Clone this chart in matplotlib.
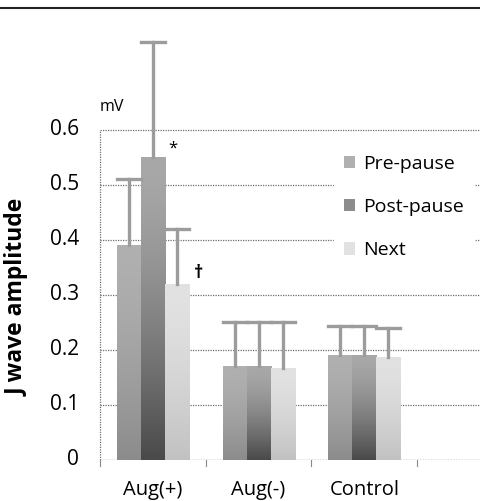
import matplotlib
matplotlib.use('Agg')
import matplotlib.pyplot as plt
from matplotlib.patches import Patch
from matplotlib.lines import Line2D
import numpy as np

# Group names and series (mean and upper error bar value, in mV)
groups = ['Aug(+)', 'Aug(-)', 'Control']
series = ['Pre-pause', 'Post-pause', 'Next']
means = {
    'Pre-pause': [0.39, 0.17, 0.19],
    'Post-pause': [0.55, 0.17, 0.19],
    'Next': [0.32, 0.166, 0.186],
}
upper = {
    'Pre-pause': [0.51, 0.25, 0.243],
    'Post-pause': [0.76, 0.25, 0.243],
    'Next': [0.42, 0.25, 0.24],
}
y_ticks = [0, 0.1, 0.2, 0.3, 0.4, 0.5, 0.6]

# top / bottom grey of each series' gradient
shades = {
    'Pre-pause': ('#b0b0b0', '#8c8c8c'),
    'Post-pause': ('#a8a8a8', '#4a4a4a'),
    'Next': ('#e2e2e2', '#c2c2c2'),
}

plt.rcParams['font.family'] = ['Open Sans', 'DejaVu Sans']

fig = plt.figure(figsize=(4.81, 5.01), dpi=100)
ax = fig.add_axes([0.2079, 0.0828, 0.8794, 0.878])
ax.set_xlim(-0.5, 3.5)
ax.set_ylim(0, 0.8)

grid_kw = dict(color='#6e6e6e', lw=0.9, ls=(0, (1, 1)), zorder=1)
for t in y_ticks[1:]:
    ax.axhline(t, **grid_kw)
ax.axhline(0, color='#555555', lw=1.0, ls=(0, (1, 1)), zorder=1)
ax.plot([-0.5, -0.5], [0, 0.6], clip_on=False, **grid_kw)
for b in [-0.5, 0.5, 1.5, 2.5]:
    ax.plot([b, b], [0, -0.012], color='#888888', lw=0.8, clip_on=False)

width = 0.227
offsets = [-width, 0, width]
x = np.arange(len(groups))

for s, off in zip(series, offsets):
    top_c, bot_c = shades[s]
    c1 = np.array(matplotlib.colors.to_rgb(top_c))
    c2 = np.array(matplotlib.colors.to_rgb(bot_c))
    ramp = np.linspace(0, 1, 64) ** 1.5
    grad = (c1[None, :] * (1 - ramp[:, None]) + c2[None, :] * ramp[:, None])[:, None, :]
    for xi, m, u in zip(x, means[s], upper[s]):
        left = xi + off - width / 2
        ax.imshow(grad, extent=(left, left + width, 0, m), aspect='auto',
                  origin='upper', zorder=2, interpolation='bilinear')
        # one-sided error bar
        ax.plot([xi + off, xi + off], [m, u], color='#9c9c9c', lw=2.4, zorder=3)
        ax.plot([left, left + width], [u, u], color='#9c9c9c', lw=2.4, zorder=3)

ax.set_xlim(-0.5, 3.5)
ax.set_ylim(0, 0.8)

for sp in ax.spines.values():
    sp.set_visible(False)
ax.set_xticks([])
ax.set_yticks([])

for t in y_ticks:
    ax.text(-0.7, t, f'{t:g}' if t else '0', ha='right', va='center', fontsize=15)
for xi, g in zip(x, groups):
    ax.text(xi, -0.056, g, ha='center', va='center', fontsize=14.5)

ax.text(-0.39, 0.627, 'mV', ha='center', va='bottom', fontsize=11.5)
ax.text(0.19, 0.565, '*', ha='center', va='center', fontsize=12)
ax.text(0.43, 0.34, '†', ha='center', va='center', fontsize=13, fontweight='bold')

fig.text(0.037, 0.407, 'J wave amplitude', rotation=90, ha='center', va='center',
         fontsize=16.5, fontweight='bold')

handles = [Patch(facecolor=shades[s][0] if s != 'Post-pause' else '#8c8c8c',
                 edgecolor='none') for s in series]
leg = ax.legend(handles, series, loc='upper left', bbox_to_anchor=(0.53, 0.737),
                frameon=True, framealpha=1, edgecolor='white', fontsize=14,
                handlelength=0.6, handleheight=0.6, handletextpad=0.4,
                labelspacing=1.3, borderpad=0.5)
leg.set_zorder(5)

# rule across the top of the figure
fig.add_artist(Line2D([0, 1], [0.985, 0.985], color='#222222', lw=1.5))

fig.savefig('out.png', dpi=100)
